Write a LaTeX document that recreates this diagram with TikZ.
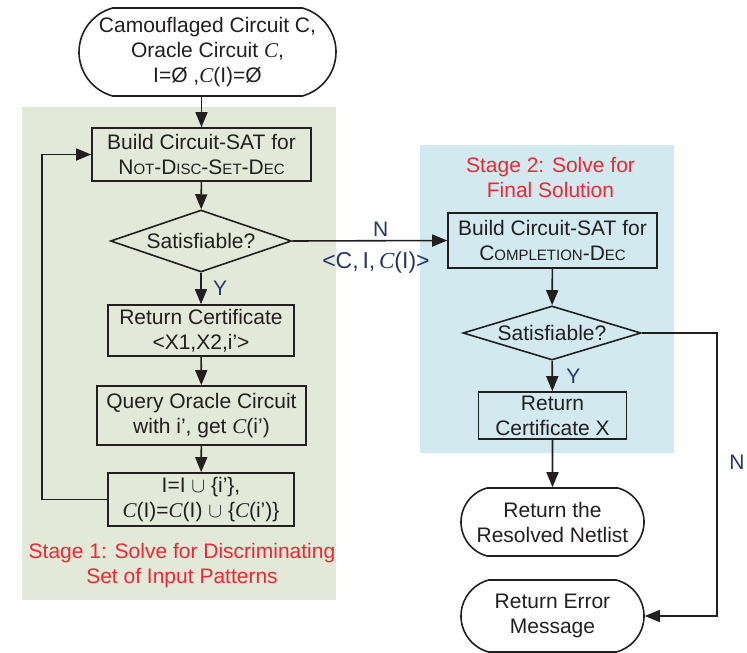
\documentclass[tikz,border=0pt]{standalone}
\usepackage{fontspec}
\setmainfont{Liberation Sans}
\newfontfamily\timesf{Liberation Serif}
\usetikzlibrary{shapes.geometric,shapes.misc,arrows.meta}
\definecolor{stageone}{RGB}{227,233,216}
\definecolor{stagetwo}{RGB}{209,233,239}
\definecolor{stagered}{RGB}{237,40,52}
\definecolor{ynblue}{RGB}{38,55,100}
\definecolor{ink}{RGB}{35,31,32}
\newcommand{\orC}{{\timesf\itshape C}}
\newcommand{\fsc}[1]{{\fontsize{15}{25}\selectfont #1}}
\tikzset{
  block/.style={draw=ink, line width=1.6pt, rectangle, align=center, inner sep=0pt, text=ink},
  term/.style={block, rounded rectangle, rounded rectangle arc length=150},
  decision/.style={draw=ink, line width=1.6pt, diamond, inner sep=0pt, text=ink},
  lbl/.style={text=ynblue},
  stage/.style={text=stagered, align=center},
  flow/.style={draw=ink, line width=1.6pt, ->}
}
\begin{document}
\begin{tikzpicture}[x=1pt, y=-1pt, >={Triangle[length=15pt,width=12pt]}, font=\fontsize{21}{25}\selectfont]
  \useasboundingbox (0,0) rectangle (747,653);
  \fill[stageone] (22,107) rectangle (336,600);
  \fill[stagetwo] (420,145) rectangle (674,453);

  \node[term, minimum width=257pt, minimum height=88pt] (start) at (207.5,52) {Camouflaged Circuit C,\\Oracle Circuit \orC,\\I=Ø ,\orC(I)=Ø};
  \node[block, minimum width=219pt, minimum height=53pt] (b1) at (201.5,154.5) {Build Circuit-SAT for\\N\fsc{OT}-D\fsc{ISC}-S\fsc{ET}-D\fsc{EC}};
  \node[decision, aspect=2.33, minimum width=181pt, minimum height=62pt] (d1) at (201,241) {Satisfiable?};
  \node[block, minimum width=186pt, minimum height=51pt] (b2) at (201,330.5) {Return Certificate\\<X1,X2,i’>};
  \node[block, minimum width=209pt, minimum height=59pt] (b3) at (201.5,415.5) {Query Oracle Circuit\\with i’, get \orC(i’)};
  \node[block, minimum width=186pt, minimum height=53pt] (b4) at (201,499.5) {I=I $\cup$ \{i’\},\\\orC(I)=\orC(I) $\cup$ \{\orC(i’)\}};
  \node[stage] (s1) at (182,566) {Stage 1: Solve for Discriminating\\Set of Input Patterns};

  \node[stage] (s2) at (550.5,177) {Stage 2: Solve for\\Final Solution};
  \node[block, minimum width=209pt, minimum height=55pt] (b5) at (552.5,240.5) {Build Circuit-SAT for\\C\fsc{OMPLETION}-D\fsc{EC}};
  \node[decision, aspect=2.81, minimum width=178pt, minimum height=54pt] (d2) at (552,333) {Satisfiable?};
  \node[block, minimum width=148pt, minimum height=47pt] (b6) at (552.5,415.5) {Return\\Certificate X};
  \node[term, minimum width=183pt, minimum height=68pt] (t1) at (552.5,522) {Return the\\Resolved Netlist};
  \node[term, minimum width=183pt, minimum height=72pt] (t2) at (552.5,616) {Return Error\\Message};
  \coordinate (nbend) at (717,333);

  \draw[flow] (start.south -| b1.north) -- (b1.north);
  \draw[flow] (b1) -- (d1);
  \draw[flow] (d1) -- (b2) node[lbl, midway, right=8pt] {Y};
  \draw[flow] (b2) -- (b3);
  \draw[flow] (b3) -- (b4);
  \draw[flow] (b4.west) -- ++(-65,0) |- (b1.west);
  \draw[flow] (d1.east) -- (b5.west) node[lbl, pos=0.57, above] {N} node[lbl, pos=0.54, below=7pt, font=\fontsize{23}{25}\selectfont] {<C,\,I,\,\orC(I)>};
  \draw[flow] (b5) -- (d2);
  \draw[flow] (d2) -- (b6) node[lbl, midway, right=10pt] {Y};
  \draw[flow] (b6) -- (t1);
  \draw[flow] (d2.east) -- (nbend) |- (t2.east);
  \node[lbl] (nlbl) at (737,462) {N};
\end{tikzpicture}
\end{document}
